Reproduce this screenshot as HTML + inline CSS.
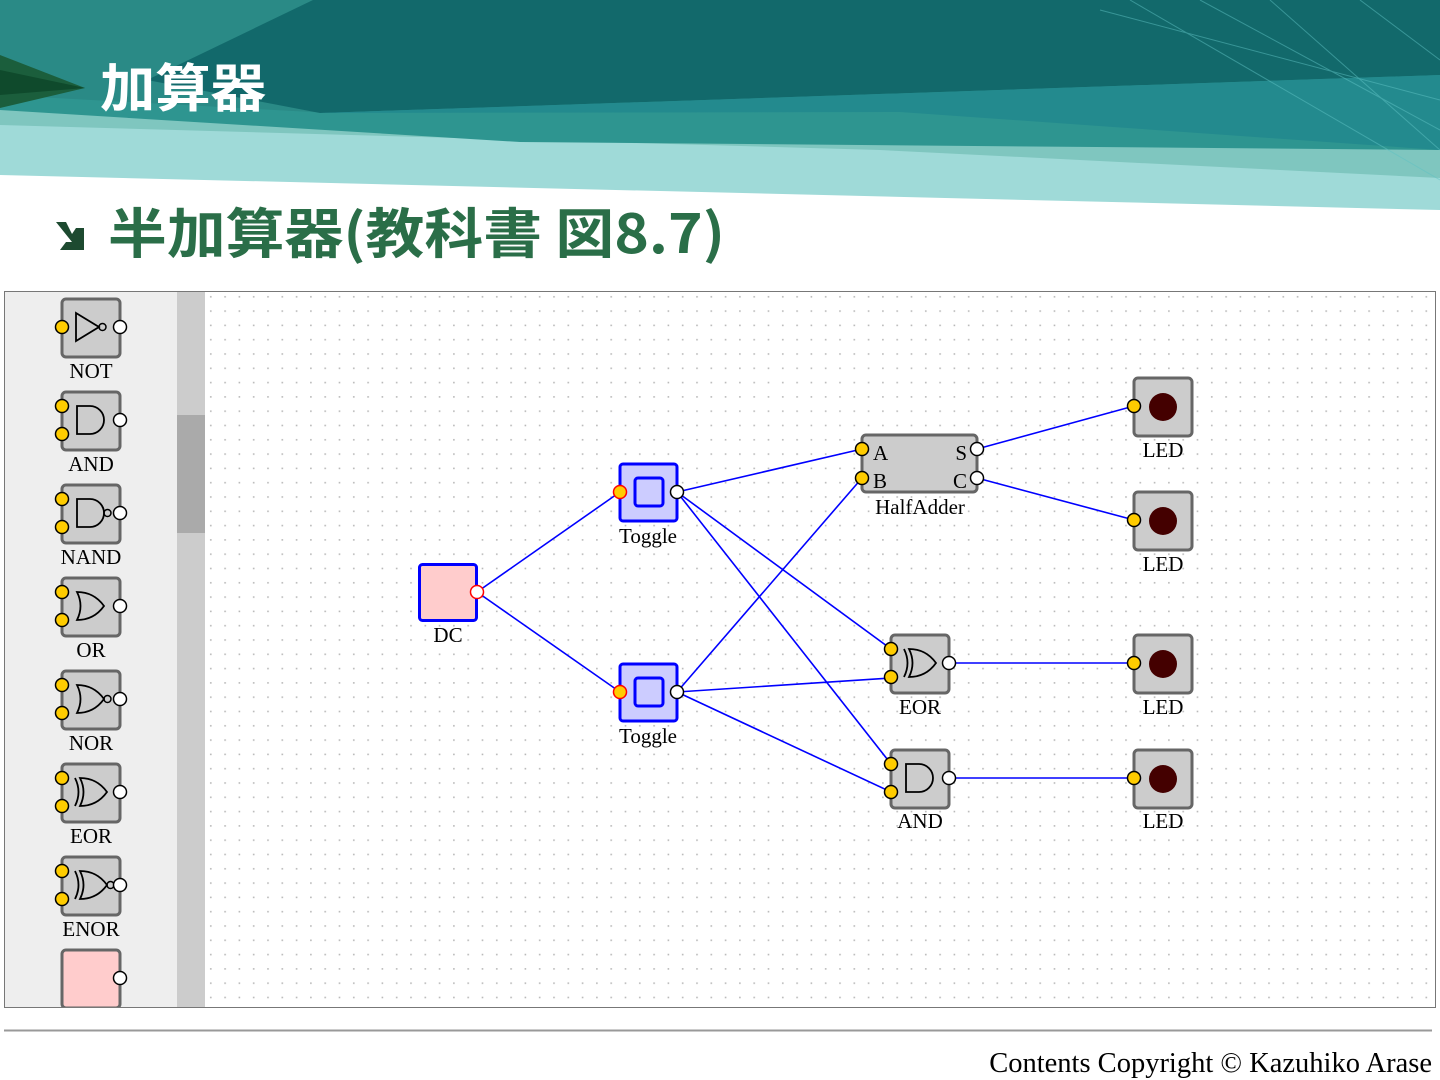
<!DOCTYPE html>
<html><head><meta charset="utf-8"><style>
html,body{margin:0;padding:0;background:#fff;width:1440px;height:1080px;overflow:hidden}
svg{display:block}
text{font-family:"Liberation Serif",serif}
</style></head><body>
<svg width="1440" height="1080" viewBox="0 0 1440 1080" xmlns="http://www.w3.org/2000/svg">
<defs>
<pattern id="dots" x="205" y="291" width="14.3" height="14.3" patternUnits="userSpaceOnUse">
<rect x="5" y="5" width="1.6" height="1.6" fill="#b8b8b8"/>
</pattern>
<g id="box"><rect x="0" y="0" width="58" height="58" rx="4" fill="#ccc" stroke="#666" stroke-width="3"/></g>
<g id="in2"><circle cx="0" cy="14" r="6.5" fill="#fc0" stroke="#000" stroke-width="1.5"/><circle cx="0" cy="42" r="6.5" fill="#fc0" stroke="#000" stroke-width="1.5"/></g>
<g id="out"><circle cx="58" cy="28" r="6.5" fill="#fff" stroke="#000" stroke-width="1.5"/></g>
<path id="andp" d="M15 14 H28 A14 14 0 0 1 28 42 H15 Z" fill="none" stroke="#000" stroke-width="1.8"/>
<path id="orp" d="M15 14 Q32 14 42 28 Q32 42 15 42 Q22 28 15 14 Z" fill="none" stroke="#000" stroke-width="1.8"/>
</defs>

<!-- header -->
<polygon points="0,0 1440,0 1440,210 0,175" fill="#9fdad8"/>
<polygon points="0,0 1440,0 1440,178 880,150 0,125" fill="#7fc6bf"/>
<polygon points="0,0 1440,0 1440,150 520,142 0,110" fill="#2e9590"/>
<polygon points="0,0 1440,0 1440,75 330,113 0,95" fill="#2a8a86"/>
<polygon points="147,80 313,0 1440,0 1440,75 320,113" fill="#12696b"/>
<polygon points="320,113 1440,75 1440,150 900,112" fill="#238a8e"/>
<polygon points="0,55 85,88 0,108" fill="#1b5e3c"/>
<polygon points="0,70 85,88 0,95" fill="#0f4a2c"/>
<g stroke="#5fc2c4" stroke-width="1" opacity="0.5" fill="none">
<line x1="1130" y1="0" x2="1440" y2="180"/><line x1="1200" y1="0" x2="1440" y2="130"/>
<line x1="1270" y1="0" x2="1440" y2="150"/><line x1="1100" y1="10" x2="1440" y2="100"/>
<line x1="1360" y1="0" x2="1440" y2="60"/>
</g>
<text x="100" y="107" font-size="52" font-weight="bold" fill="#fff" textLength="166" lengthAdjust="spacingAndGlyphs" style="font-family:'Noto Sans CJK JP',sans-serif">加算器</text>

<!-- subtitle -->
<polygon points="56,222 66,222 72,234 76,228 84,228 84,250 60,250 66,242 72,242" fill="#1d4a30"/>
<text x="108" y="253" font-size="54" font-weight="bold" fill="#2a6e48" textLength="617" lengthAdjust="spacingAndGlyphs" style="font-family:'Noto Sans CJK JP',sans-serif">半加算器(教科書 図8.7)</text>

<!-- canvas -->
<rect x="4.5" y="291.5" width="1431" height="716" fill="#fff" stroke="#777" stroke-width="1"/>
<rect x="205" y="292" width="1230" height="715" fill="url(#dots)"/>
<rect x="5" y="292" width="172" height="715" fill="#eee"/>
<rect x="177" y="292" width="28" height="715" fill="#ccc"/>
<rect x="177" y="415" width="28" height="118" fill="#aaa"/>

<!-- palette -->
<g transform="translate(62,299)"><use href="#box"/><path d="M14 14 L37 28 L14 42 Z" fill="none" stroke="#000" stroke-width="1.8"/><circle cx="40.5" cy="28" r="3.5" fill="none" stroke="#000" stroke-width="1.5"/><circle cx="0" cy="28" r="6.5" fill="#fc0" stroke="#000" stroke-width="1.5"/><use href="#out"/></g>
<text x="91" y="378" font-size="21" text-anchor="middle">NOT</text>
<g transform="translate(62,392)"><use href="#box"/><use href="#andp"/><use href="#in2"/><use href="#out"/></g>
<text x="91" y="471" font-size="21" text-anchor="middle">AND</text>
<g transform="translate(62,485)"><use href="#box"/><use href="#andp"/><circle cx="45.5" cy="28" r="3.5" fill="none" stroke="#000" stroke-width="1.5"/><use href="#in2"/><use href="#out"/></g>
<text x="91" y="564" font-size="21" text-anchor="middle">NAND</text>
<g transform="translate(62,578)"><use href="#box"/><use href="#orp"/><use href="#in2"/><use href="#out"/></g>
<text x="91" y="657" font-size="21" text-anchor="middle">OR</text>
<g transform="translate(62,671)"><use href="#box"/><use href="#orp"/><circle cx="45.5" cy="28" r="3.5" fill="none" stroke="#000" stroke-width="1.5"/><use href="#in2"/><use href="#out"/></g>
<text x="91" y="750" font-size="21" text-anchor="middle">NOR</text>
<g transform="translate(62,764)"><use href="#box"/><g transform="translate(3,0)"><use href="#orp"/></g><path d="M13 14 Q20 28 13 42" fill="none" stroke="#000" stroke-width="1.8"/><use href="#in2"/><use href="#out"/></g>
<text x="91" y="843" font-size="21" text-anchor="middle">EOR</text>
<g transform="translate(62,857)"><use href="#box"/><g transform="translate(3,0)"><use href="#orp"/></g><path d="M13 14 Q20 28 13 42" fill="none" stroke="#000" stroke-width="1.8"/><circle cx="48.5" cy="28" r="3.5" fill="none" stroke="#000" stroke-width="1.5"/><use href="#in2"/><use href="#out"/></g>
<text x="91" y="936" font-size="21" text-anchor="middle">ENOR</text>
<g transform="translate(62,950)"><rect x="0" y="0" width="58" height="58" rx="4" fill="#fcc" stroke="#666" stroke-width="3"/><use href="#out"/></g>
<rect x="5" y="1007" width="200" height="3" fill="#fff"/>
<line x1="4" y1="1007.5" x2="1436" y2="1007.5" stroke="#777"/>

<!-- wires -->
<g stroke="#00f" stroke-width="1.6" fill="none">
<line x1="477" y1="592" x2="620" y2="492"/><line x1="477" y1="592" x2="620" y2="692"/>
<line x1="677" y1="492" x2="862" y2="449"/><line x1="677" y1="492" x2="891" y2="649"/><line x1="677" y1="492" x2="891" y2="764"/>
<line x1="677" y1="692" x2="862" y2="478"/><line x1="677" y1="692" x2="891" y2="678"/><line x1="677" y1="692" x2="891" y2="792"/>
<line x1="977" y1="449" x2="1134" y2="406"/><line x1="977" y1="478" x2="1134" y2="520"/>
<line x1="949" y1="663" x2="1134" y2="663"/><line x1="949" y1="778" x2="1134" y2="778"/>
</g>

<!-- DC -->
<rect x="419.5" y="564.5" width="57" height="56" rx="3" fill="#fcc" stroke="#00f" stroke-width="3"/>
<circle cx="477" cy="592" r="6.5" fill="#fff" stroke="#f00" stroke-width="1.5"/>
<text x="448" y="642" font-size="21" text-anchor="middle">DC</text>

<!-- Toggles -->
<g transform="translate(620,464)"><rect x="0" y="0" width="57" height="57" rx="3" fill="#ccf" stroke="#00f" stroke-width="3"/><rect x="15" y="14" width="28" height="28" rx="3" fill="#ccf" stroke="#00f" stroke-width="3"/><circle cx="0" cy="28" r="6.5" fill="#fc0" stroke="#f00" stroke-width="1.5"/><circle cx="57" cy="28" r="6.5" fill="#fff" stroke="#000" stroke-width="1.5"/></g>
<text x="648" y="543" font-size="21" text-anchor="middle">Toggle</text>
<g transform="translate(620,664)"><rect x="0" y="0" width="57" height="57" rx="3" fill="#ccf" stroke="#00f" stroke-width="3"/><rect x="15" y="14" width="28" height="28" rx="3" fill="#ccf" stroke="#00f" stroke-width="3"/><circle cx="0" cy="28" r="6.5" fill="#fc0" stroke="#f00" stroke-width="1.5"/><circle cx="57" cy="28" r="6.5" fill="#fff" stroke="#000" stroke-width="1.5"/></g>
<text x="648" y="743" font-size="21" text-anchor="middle">Toggle</text>

<!-- HalfAdder -->
<rect x="862" y="435" width="115" height="57" rx="4" fill="#ccc" stroke="#666" stroke-width="3"/>
<circle cx="862" cy="449" r="6.5" fill="#fc0" stroke="#000" stroke-width="1.5"/>
<circle cx="862" cy="478" r="6.5" fill="#fc0" stroke="#000" stroke-width="1.5"/>
<circle cx="977" cy="449" r="6.5" fill="#fff" stroke="#000" stroke-width="1.5"/>
<circle cx="977" cy="478" r="6.5" fill="#fff" stroke="#000" stroke-width="1.5"/>
<text x="873" y="460" font-size="21">A</text><text x="873" y="488" font-size="21">B</text>
<text x="967" y="460" font-size="21" text-anchor="end">S</text><text x="967" y="488" font-size="21" text-anchor="end">C</text>
<text x="920" y="514" font-size="21" text-anchor="middle">HalfAdder</text>

<!-- EOR / AND -->
<g transform="translate(891,635)"><use href="#box"/><g transform="translate(3,0)"><use href="#orp"/></g><path d="M13 14 Q20 28 13 42" fill="none" stroke="#000" stroke-width="1.8"/><use href="#in2"/><use href="#out"/></g>
<text x="920" y="714" font-size="21" text-anchor="middle">EOR</text>
<g transform="translate(891,750)"><use href="#box"/><use href="#andp"/><use href="#in2"/><use href="#out"/></g>
<text x="920" y="828" font-size="21" text-anchor="middle">AND</text>

<!-- LEDs -->
<g transform="translate(1134,378)"><use href="#box"/><circle cx="29" cy="29" r="14" fill="#400"/><circle cx="0" cy="28" r="6.5" fill="#fc0" stroke="#000" stroke-width="1.5"/></g>
<text x="1163" y="457" font-size="21" text-anchor="middle">LED</text>
<g transform="translate(1134,492)"><use href="#box"/><circle cx="29" cy="29" r="14" fill="#400"/><circle cx="0" cy="28" r="6.5" fill="#fc0" stroke="#000" stroke-width="1.5"/></g>
<text x="1163" y="571" font-size="21" text-anchor="middle">LED</text>
<g transform="translate(1134,635)"><use href="#box"/><circle cx="29" cy="29" r="14" fill="#400"/><circle cx="0" cy="28" r="6.5" fill="#fc0" stroke="#000" stroke-width="1.5"/></g>
<text x="1163" y="714" font-size="21" text-anchor="middle">LED</text>
<g transform="translate(1134,750)"><use href="#box"/><circle cx="29" cy="29" r="14" fill="#400"/><circle cx="0" cy="28" r="6.5" fill="#fc0" stroke="#000" stroke-width="1.5"/></g>
<text x="1163" y="828" font-size="21" text-anchor="middle">LED</text>

<!-- footer -->
<line x1="4" y1="1030.5" x2="1432" y2="1030.5" stroke="#999" stroke-width="2"/>
<text x="1432" y="1072" font-size="28.5" text-anchor="end">Contents Copyright © Kazuhiko Arase</text>
</svg>
</body></html>
